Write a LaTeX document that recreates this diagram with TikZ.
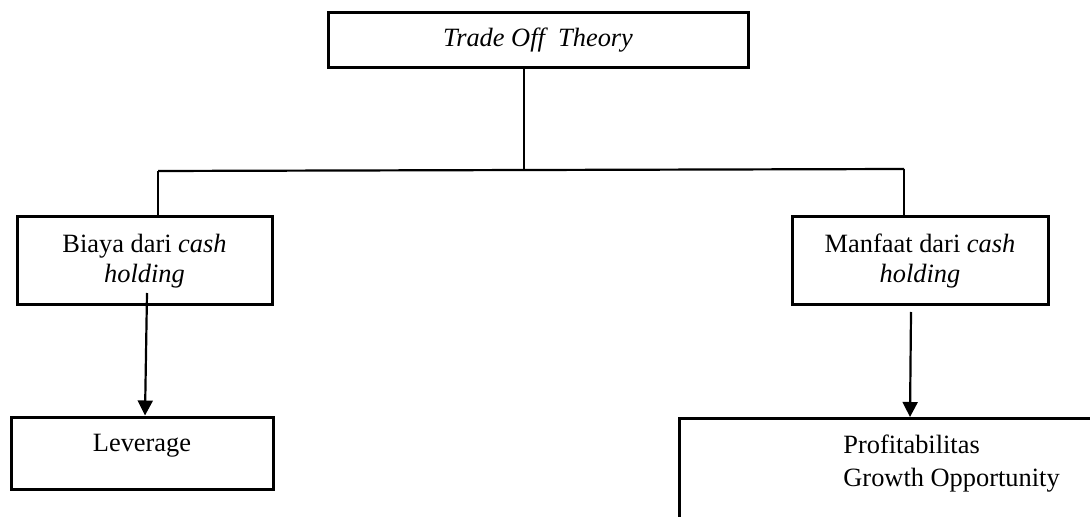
\documentclass[tikz,border=0pt]{standalone}
\usepackage{fontspec}
\setmainfont{Liberation Serif}
\usetikzlibrary{arrows.meta}
\begin{document}
\begin{tikzpicture}[x=0.5pt,y=-0.5pt,
  box/.style={draw=black,line width=1.5pt,rectangle,inner sep=0pt,font=\fontsize{13.2}{15}\selectfont,align=center},
  txt/.style={inner sep=0pt,font=\fontsize{13.2}{15}\selectfont},
  conn/.style={draw=black,line width=1.1pt},
  arr/.style={conn,-{Triangle[width=7.5pt,length=7.5pt]}}]
\useasboundingbox (0,0) rectangle (1090,517);
\clip (0,0) rectangle (1090,517);
% top box
\node[box,minimum width=210pt,minimum height=27.5pt] (top) at (538,40.5) {\itshape Trade Off\ \ Theory};
% second level
\node[box,minimum width=127.5pt,minimum height=44pt] (biaya) at (144.5,261) {Biaya dari \textit{cash}\\\textit{holding}};
\node[box,minimum width=128pt,minimum height=44pt] (manfaat) at (920,261) {Manfaat dari \textit{cash}\\\textit{holding}};
% bottom level
\node[box,minimum width=131pt,minimum height=36pt] (lev) at (142,453) {};
\node[txt] (levtext) at (142,446) {Leverage};
\node[box,minimum width=230pt,minimum height=80pt,anchor=north west] (pg) at (678,417) {};
\node[txt,align=left,anchor=north west,font=\fontsize{13.2}{16.5}\selectfont] (pgtext) at (843,435) {Profitabilitas\\Growth Opportunity};
% connectors
\coordinate (jm) at (524,170);
\coordinate (jl) at (158,171);
\coordinate (jr) at (904,169);
\draw[conn] (top.south -| jm) -- (jm);
\draw[conn] (jl) -- (jr);
\draw[conn] (jl) -- (jl |- biaya.north);
\draw[conn] (jr) -- (jr |- manfaat.north);
\coordinate (bs) at (147,293);
\coordinate (ms) at (911,312);
\draw[arr] (bs) -- (lev.north -| 145,0);
\draw[arr] (ms) -- (pg.north -| 910,0);
\end{tikzpicture}
\end{document}
